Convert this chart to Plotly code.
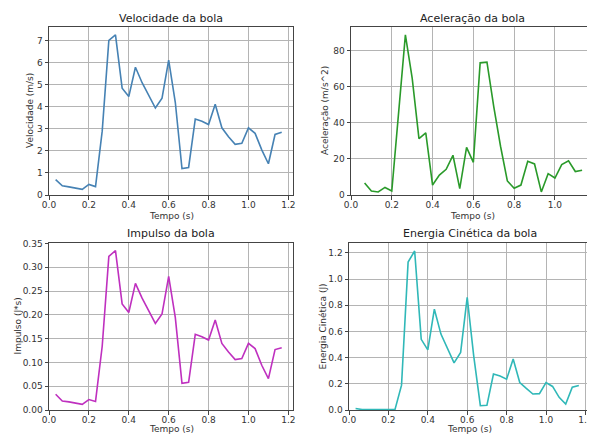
import plotly.graph_objects as go

tempo = [0.0333, 0.0667, 0.1, 0.1333, 0.1667, 0.2, 0.2333, 0.2667, 0.3, 0.3333,
         0.3667, 0.4, 0.4333, 0.4667, 0.5, 0.5333, 0.5667, 0.6, 0.6333, 0.6667,
         0.7, 0.7333, 0.7667, 0.8, 0.8333, 0.8667, 0.9, 0.9333, 0.9667, 1.0,
         1.0333, 1.0667, 1.1, 1.1333, 1.1667]

velocidade = [0.70, 0.42, 0.37, 0.33, 0.26, 0.48, 0.38, 2.90, 7.02, 7.27,
              4.85, 4.47, 5.80, 5.10, 4.50, 3.95, 4.40, 6.13, 4.20, 1.20,
              1.25, 3.45, 3.35, 3.20, 4.12, 3.05, 2.65, 2.30, 2.35, 3.05,
              2.80, 2.05, 1.42, 2.75, 2.85]

tempo_acel = tempo[1:34]
aceleracao = [6.6, 2.2, 1.7, 4.2, 2.2, 45.0, 88.7, 64.7, 31.2, 34.4,
              5.5, 11.0, 14.2, 22.0, 3.5, 26.4, 18.1, 73.2, 73.6, 49.0,
              27.0, 7.8, 3.7, 5.5, 18.7, 17.2, 1.7, 11.8, 9.4, 16.8,
              18.9, 13.0, 13.7]

impulso = [0.033, 0.019, 0.017, 0.015, 0.012, 0.022, 0.018, 0.134, 0.323, 0.335,
           0.223, 0.205, 0.266, 0.235, 0.208, 0.182, 0.202, 0.281, 0.194, 0.056,
           0.058, 0.159, 0.154, 0.147, 0.189, 0.140, 0.122, 0.106, 0.108, 0.140,
           0.129, 0.094, 0.066, 0.127, 0.131]

energia = [0.011, 0.004, 0.003, 0.003, 0.002, 0.005, 0.003, 0.19, 1.13, 1.215,
           0.54, 0.46, 0.77, 0.58, 0.47, 0.36, 0.44, 0.86, 0.41, 0.033,
           0.036, 0.275, 0.26, 0.235, 0.39, 0.21, 0.165, 0.122, 0.125, 0.21,
           0.18, 0.097, 0.046, 0.174, 0.187]

titulos = ["Velocidade da bola", "Aceleração da bola", "Impulso da bola", "Energia Cinética da bola"]
ylabels = ["Velocidade (m/s)", "Aceleração (m/s^2)", "Impulso (J*s)", "Energia Cinética (J)"]
cores = ["#4682b4", "#2a9a2a", "#bf30bf", "#30b8b8"]

W, H = 595, 434
OFF = 8  # page body margin
# pixel boxes on screen: left, right, top, bottom
boxes_screen = [(49, 293, 27, 195), (351, 593, 27, 195), (49, 293, 243, 410), (349, 590, 243, 410)]
boxes = [(l - OFF, r - OFF, t - OFF, b - OFF) for (l, r, t, b) in boxes_screen]

fig = go.Figure()
series = [(tempo, velocidade), (tempo_acel, aceleracao), (tempo, impulso), (tempo, energia)]
yranges = [[0, 7.63], [0, 93.05], [0, 0.351], [0, 1.276]]
xranges = [[0, 1.2233], [0, 1.1867], [0, 1.2233], [0, 1.2233]]
ydtick = [1, 20, 0.05, 0.2]
yfmt = [".0f", ".0f", ".2f", ".1f"]
ylab_x = [30, 325, 17, 322]  # screen x centers of y labels
xlab_y = [216, 216, 429, 429]  # screen y centers of x labels

axis_common = dict(showline=True, mirror=True, linecolor="#444444", linewidth=1,
                   ticks="outside", ticklen=3.5, tickcolor="#444444", tickwidth=1,
                   showgrid=True, gridcolor="#b4b4b4", gridwidth=1, zeroline=False,
                   automargin=False,
                   tickfont=dict(family="DejaVu Sans", size=9, color="#333333"))

for i, ((xs, ys), (l, r, t, b)) in enumerate(zip(series, boxes)):
    n = i + 1
    xa = "x" if n == 1 else f"x{n}"
    ya = "y" if n == 1 else f"y{n}"
    fig.add_trace(go.Scatter(x=xs, y=ys, mode="lines", line=dict(color=cores[i], width=1.6),
                             xaxis=xa, yaxis=ya, showlegend=False))
    xkey = "xaxis" if n == 1 else f"xaxis{n}"
    ykey = "yaxis" if n == 1 else f"yaxis{n}"
    fig.update_layout({
        xkey: dict(domain=[l / W, r / W], anchor=ya, range=xranges[i], dtick=0.2,
                   tick0=0, tickformat=".1f", ticklabelstandoff=-2, **axis_common),
        ykey: dict(domain=[1 - b / H, 1 - t / H], anchor=xa, range=yranges[i],
                   dtick=ydtick[i], tick0=0, tickformat=yfmt[i], **axis_common),
    })
    fig.add_annotation(x=(l + r) / 2 / W, y=1 - (t - 9) / H, xref="paper", yref="paper",
                       text=titulos[i], showarrow=False, xanchor="center", yanchor="middle",
                       font=dict(family="DejaVu Sans", size=11, color="#222222"))
    fig.add_annotation(x=(l + r) / 2 / W, y=1 - (xlab_y[i] - OFF) / H, xref="paper", yref="paper",
                       text="Tempo (s)", showarrow=False, xanchor="center", yanchor="middle",
                       font=dict(family="DejaVu Sans", size=9, color="#333333"))
    fig.add_annotation(x=(ylab_x[i] - OFF) / W, y=1 - (t + b) / 2 / H, xref="paper", yref="paper",
                       text=ylabels[i], showarrow=False, textangle=-90, xanchor="center",
                       yanchor="middle", font=dict(family="DejaVu Sans", size=9, color="#333333"))

fig.update_layout(width=W, height=H, margin=dict(l=0, r=0, t=0, b=0, autoexpand=False),
                  paper_bgcolor="white", plot_bgcolor="white")

fig.write_html("out.html")
